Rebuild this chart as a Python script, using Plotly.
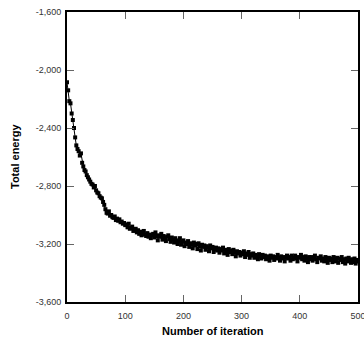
import plotly.graph_objects as go

# iteration numbers (every 2nd iteration)
iterations = list(range(0, 501, 2))

# total energy values
energy = [
    -2085, -2140, -2215, -2230, -2300, -2345, -2400, -2465, -2520, -2545,
    -2560, -2590, -2575, -2640, -2665, -2690, -2700, -2725, -2740, -2755,
    -2770, -2785, -2790, -2810, -2800, -2830, -2845, -2850, -2870, -2880,
    -2885, -2910, -2930, -2960, -2985, -2990, -2975, -3005, -3000, -3015,
    -3020, -3010, -3035, -3025, -3040, -3030, -3050, -3045, -3060, -3055,
    -3070, -3065, -3085, -3060, -3095, -3090, -3080, -3110, -3100, -3095,
    -3120, -3105, -3130, -3115, -3140, -3120, -3110, -3135, -3145, -3125,
    -3150, -3135, -3160, -3140, -3130, -3155, -3120, -3145, -3175, -3140,
    -3150, -3130, -3170, -3145, -3160, -3180, -3150, -3140, -3165, -3185,
    -3155, -3170, -3190, -3160, -3175, -3200, -3180, -3160, -3205, -3185,
    -3175, -3215, -3190, -3200, -3180, -3220, -3195, -3205, -3230, -3190,
    -3210, -3200, -3235, -3195, -3215, -3245, -3205, -3220, -3210, -3240,
    -3215, -3225, -3250, -3210, -3230, -3220, -3255, -3235, -3225, -3245,
    -3230, -3260, -3235, -3245, -3225, -3265, -3240, -3250, -3275, -3235,
    -3255, -3245, -3270, -3240, -3260, -3285, -3250, -3265, -3255, -3280,
    -3260, -3270, -3250, -3290, -3265, -3275, -3255, -3295, -3270, -3280,
    -3265, -3295, -3275, -3285, -3305, -3270, -3285, -3300, -3275, -3290,
    -3280, -3305, -3285, -3295, -3315, -3280, -3295, -3285, -3310, -3290,
    -3300, -3275, -3295, -3315, -3285, -3300, -3290, -3320, -3295, -3280,
    -3300, -3290, -3315, -3280, -3305, -3295, -3280, -3300, -3320, -3290,
    -3295, -3275, -3305, -3290, -3315, -3285, -3300, -3325, -3290, -3305,
    -3290, -3315, -3295, -3280, -3305, -3325, -3295, -3300, -3285, -3315,
    -3300, -3320, -3290, -3305, -3330, -3295, -3310, -3300, -3325, -3290,
    -3305, -3320, -3295, -3330, -3300, -3310, -3290, -3325, -3305, -3335,
    -3300, -3320, -3295, -3310, -3330, -3305, -3325, -3300, -3335, -3310,
    -3320,
]

x_ticks = [0, 100, 200, 300, 400, 500]
x_labels = ["0", "100", "200", "300", "400", "500"]
y_ticks = [-3600, -3200, -2800, -2400, -2000, -1600]
y_labels = ["-3,600", "-3,200", "-2,800", "-2,400", "-2,000", "-1,600"]

FONT = "Liberation Sans, Arial, sans-serif"

fig = go.Figure()
fig.add_trace(go.Scatter(
    x=iterations, y=energy, mode="lines+markers",
    line=dict(color="black", width=1),
    marker=dict(symbol="square", size=4, color="black"),
    showlegend=False, cliponaxis=True,
))

axis_common = dict(
    showgrid=False, zeroline=False, showline=True, linecolor="black", linewidth=2,
    mirror="allticks", ticks="inside", ticklen=7, tickwidth=1, tickcolor="#666666",
    tickfont=dict(family=FONT, size=9, color="#333333"),
    automargin=False, ticklabeloverflow="allow",
)

fig.update_layout(
    width=364, height=341,
    margin=dict(l=67, r=6, t=12, b=39),
    plot_bgcolor="white", paper_bgcolor="white",
    xaxis=dict(range=[0, 500], tickvals=x_ticks, ticktext=x_labels,
               ticklabelstandoff=4, **axis_common),
    yaxis=dict(range=[-3600, -1600], tickvals=y_ticks, ticktext=y_labels,
               ticklabelstandoff=2, **axis_common),
    annotations=[
        dict(text="<b>Number of iteration</b>", xref="paper", yref="paper",
             x=0.5, y=0, yshift=-29, xanchor="center", yanchor="middle",
             showarrow=False, font=dict(family=FONT, size=11, color="black")),
        dict(text="<b>Total energy</b>", xref="paper", yref="paper",
             x=0, y=0.5, xshift=-52, xanchor="center", yanchor="middle",
             textangle=-90, showarrow=False,
             font=dict(family=FONT, size=11, color="black")),
    ],
)

fig.write_html("out.html")
